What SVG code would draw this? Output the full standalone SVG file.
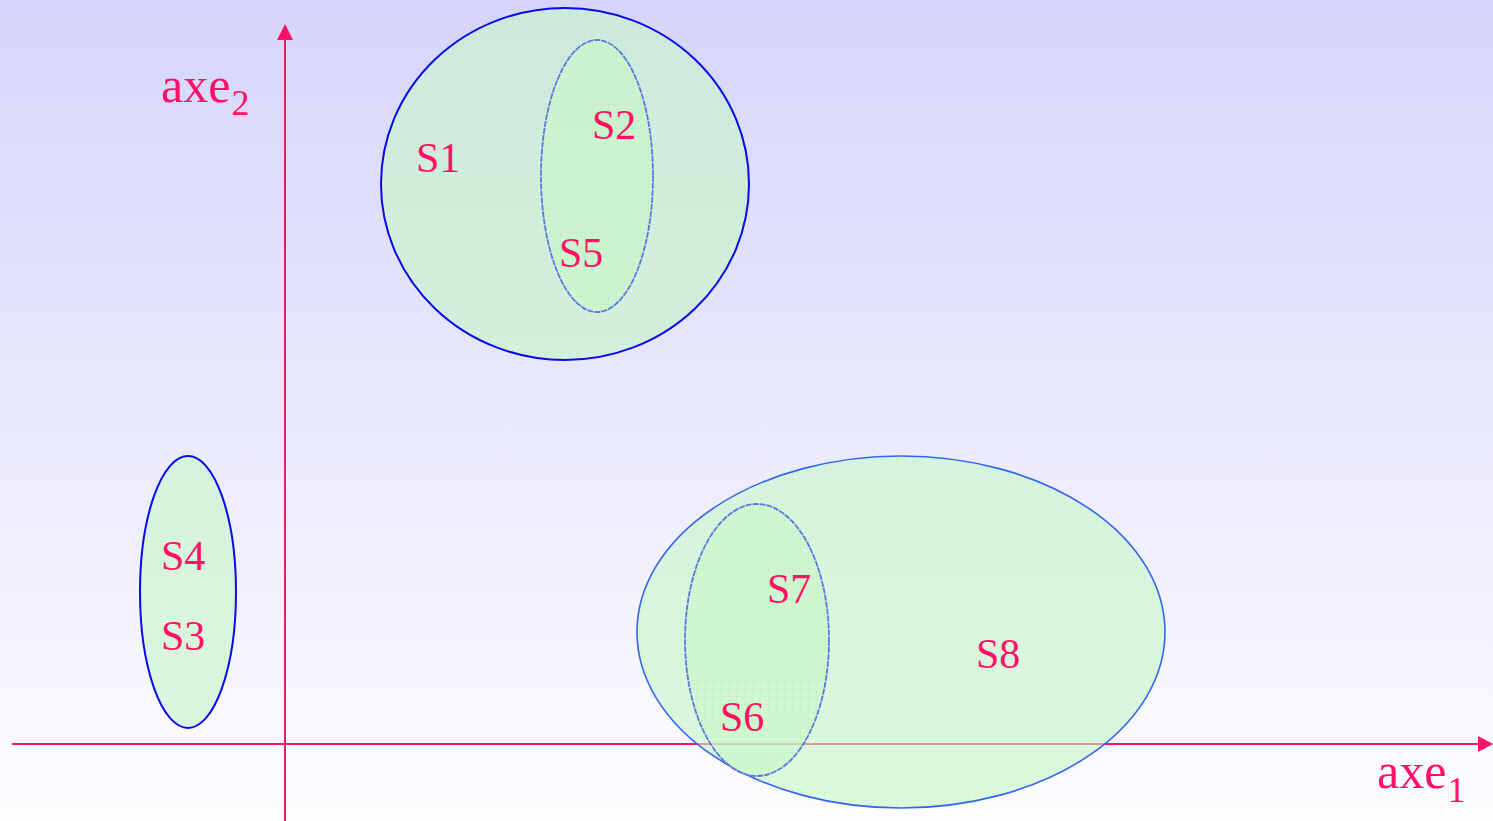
<svg xmlns="http://www.w3.org/2000/svg" width="1493" height="821" viewBox="0 0 1493 821">
<defs>
<linearGradient id="bg" x1="0" y1="0" x2="0" y2="1">
<stop offset="0" stop-color="#d5d5fb"/>
<stop offset="1" stop-color="#fdfdff"/>
</linearGradient>
<pattern id="grid" width="8" height="8" patternUnits="userSpaceOnUse">
<rect width="8" height="8" fill="#c8f8c8"/>
<path d="M0 0.5H8M0.5 0V8" stroke="#b8f0b8" stroke-width="1" opacity="0.5"/>
</pattern>
</defs>
<style>
.set{fill:url(#grid);fill-opacity:0.6;stroke-width:2}
.outer{stroke:#0a0ae6}
.outer2{stroke:#3366ee;stroke-width:1.6}
.inner{stroke:#5a78e0;stroke-width:1.8;stroke-dasharray:6 1}
.lbl{font-family:"Liberation Serif","Times New Roman",serif;font-size:42px;fill:#ff1166}
.ax{font-family:"Liberation Serif","Times New Roman",serif;fill:#ff1166}
.axis{stroke:#ff1166;stroke-width:2;fill:none}
</style>
<rect width="1493" height="821" fill="url(#bg)"/>
<g id="connectors">
<line class="axis" x1="12" y1="744" x2="1480" y2="744"/>
<path d="M1478 736L1493 744L1478 752Z" fill="#ff1166"/>
<line class="axis" x1="285" y1="821" x2="285" y2="38"/>
<path d="M277 40L285 24L293 40Z" fill="#ff1166"/>
</g>
<g id="axe2"><text class="ax" x="161" y="102" font-size="50">axe<tspan font-size="36" dy="13" dx="1">2</tspan></text></g>
<g id="axe1"><text class="ax" x="1377" y="788" font-size="50">axe<tspan font-size="36" dy="14" dx="1">1</tspan></text></g>
<g id="S3S4">
<ellipse class="set outer" cx="188" cy="592" rx="48" ry="136"/>
<text class="lbl" x="161" y="570">S4</text>
<text class="lbl" x="161" y="650">S3</text>
</g>
<g id="S1">
<ellipse class="set outer" cx="565" cy="184" rx="184" ry="176"/>
<text class="lbl" x="416" y="172">S1</text>
</g>
<g id="S2S5">
<ellipse class="set inner" cx="597" cy="176" rx="56" ry="136"/>
<text class="lbl" x="592" y="139">S2</text>
<text class="lbl" x="559" y="267">S5</text>
</g>
<g id="S8">
<ellipse class="set outer2" cx="901" cy="632" rx="264" ry="176"/>
<text class="lbl" x="976" y="668">S8</text>
</g>
<g id="S6S7">
<ellipse class="set inner" cx="757" cy="640" rx="72" ry="136"/>
<text class="lbl" x="767" y="603">S7</text>
<text class="lbl" x="720" y="731">S6</text>
</g>
</svg>
